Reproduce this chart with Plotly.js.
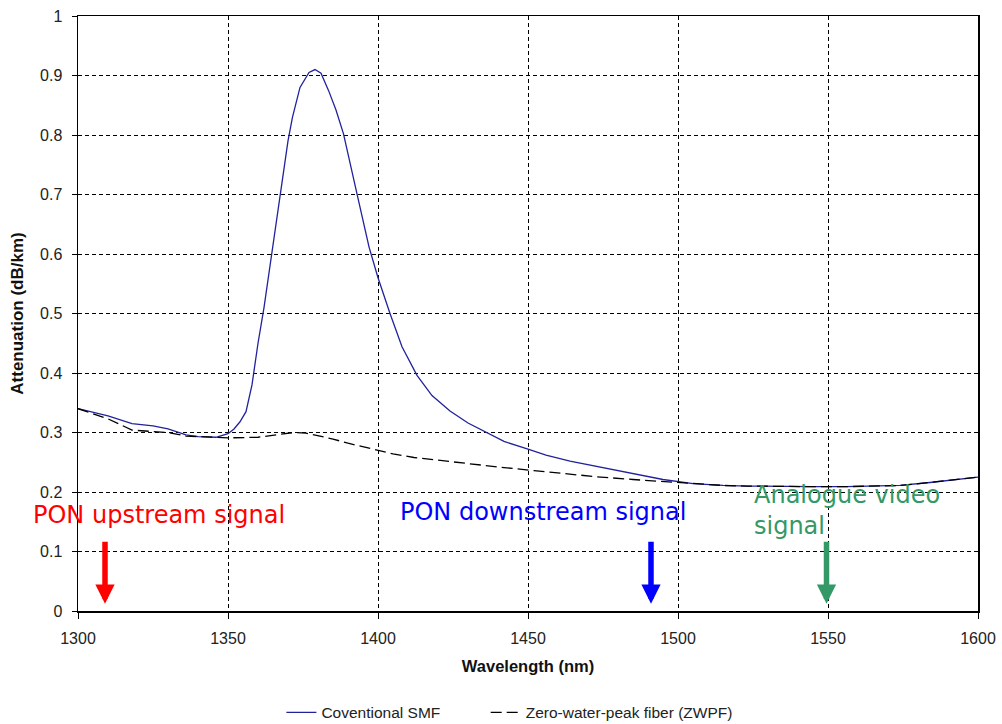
<!DOCTYPE html>
<html>
<head>
<meta charset="utf-8">
<script src="https://cdn.plot.ly/plotly-3.0.1.min.js"></script>
<style>html,body{margin:0;padding:0;background:#fff;}#chart{width:1002px;height:724px;}</style>
</head>
<body>
<div id="chart"></div>
<script>
// Conventional SMF
var smfWavelength = [1300,1305,1310,1318,1325,1330,1336,1340,1346,1350,1352,1354,1356,1358,1360,1362,1364.5,1367,1370,1371.5,1374,1377,1379,1381,1383.5,1386,1388.5,1393,1397,1400,1404,1408,1413,1418,1424,1430,1436,1442,1450,1456,1464,1472,1480,1486,1495,1505,1515,1523,1535,1545,1556,1566,1574,1584,1592,1600];
var smfAttenuation = [0.340,0.334,0.328,0.315,0.311,0.306,0.296,0.293,0.292,0.298,0.306,0.318,0.335,0.380,0.450,0.510,0.600,0.690,0.790,0.830,0.880,0.905,0.910,0.904,0.875,0.842,0.802,0.701,0.612,0.560,0.500,0.444,0.396,0.362,0.336,0.316,0.301,0.285,0.272,0.262,0.252,0.244,0.236,0.230,0.221,0.214,0.211,0.210,0.209,0.209,0.209,0.210,0.211,0.216,0.220,0.225];
// Zero-water-peak fiber (ZWPF)
var zwpfWavelength = [1300,1305,1310,1318,1325,1330,1336,1340,1350,1360,1366,1372,1376,1380,1385,1390,1395,1400,1405,1412,1422,1432,1442,1452,1462,1472,1485,1495,1505,1515,1523,1535,1545,1556,1566,1574,1584,1592,1600];
var zwpfAttenuation = [0.340,0.332,0.323,0.304,0.301,0.300,0.294,0.293,0.291,0.292,0.296,0.300,0.299,0.295,0.289,0.282,0.276,0.270,0.264,0.258,0.252,0.246,0.241,0.236,0.231,0.226,0.221,0.218,0.214,0.211,0.210,0.209,0.209,0.209,0.210,0.211,0.216,0.220,0.225];

var signalLabels = ["PON upstream signal", "PON downstream signal", "Analogue video<br>signal"];
var signalWavelengths = [1309, 1491, 1549.5];
var labelX = [1327, 1455, 1524.5];
var labelY = [0.162, 0.167, 0.169];
var labelAnchor = ["center", "center", "left"];
var signalColors = ["#ff0000", "#0000ff", "#339966"];

var traces = [
  {x: smfWavelength, y: smfAttenuation, type: 'scatter', mode: 'lines', name: 'Coventional SMF',
   line: {color: '#22229c', width: 1.3}, legend: 'legend'},
  {x: zwpfWavelength, y: zwpfAttenuation, type: 'scatter', mode: 'lines', name: 'Zero-water-peak fiber (ZWPF)',
   line: {color: '#000000', width: 1.3, dash: '11px,5px'}, legend: 'legend2'}
];

var annotations = [];
for (var i = 0; i < signalLabels.length; i++) {
  annotations.push({x: labelX[i], y: labelY[i], xref: 'x', yref: 'y', text: signalLabels[i],
    showarrow: false, xanchor: labelAnchor[i], yanchor: 'middle', align: 'left',
    font: {family: 'DejaVu Sans', size: 24, color: signalColors[i]}});
  annotations.push({x: signalWavelengths[i], y: 0.012, xref: 'x', yref: 'y',
    ax: signalWavelengths[i], ay: 0.119, axref: 'x', ayref: 'y', text: '',
    showarrow: true, arrowhead: 2, arrowsize: 0.7, arrowwidth: 5.5, arrowcolor: signalColors[i]});
}

var legendStyle = {orientation: 'h', xanchor: 'left', y: -0.171, yanchor: 'middle',
                   font: {size: 15.5, color: '#222'}};

var layout = {
  width: 1002, height: 724,
  margin: {l: 78, r: 24, t: 15.5, b: 113.3, autoexpand: false},
  paper_bgcolor: '#ffffff', plot_bgcolor: '#ffffff',
  font: {family: 'Liberation Sans, Arial, sans-serif', size: 16, color: '#222'},
  showlegend: true,
  legend: Object.assign({x: 0.226}, legendStyle),
  legend2: Object.assign({x: 0.453}, legendStyle),
  xaxis: {range: [1300, 1600], dtick: 50, tick0: 1300, showgrid: true, gridcolor: '#000', griddash: '4px,3px', gridwidth: 1,
          showline: true, mirror: true, linecolor: '#000', linewidth: 1.5, zeroline: false, automargin: false,
          ticks: 'outside', ticklen: 6, tickcolor: '#000', ticklabelstandoff: 6,
          title: {text: '<b>Wavelength (nm)</b>', font: {size: 16.5, color: '#111'}, standoff: 14}},
  yaxis: {range: [0, 1], dtick: 0.1, showgrid: true, gridcolor: '#000', griddash: '4px,3px', gridwidth: 1,
          showline: true, mirror: true, linecolor: '#000', linewidth: 1.5, zeroline: false, automargin: false,
          ticks: 'outside', ticklen: 5, tickcolor: '#000', ticklabelstandoff: 6,
          title: {text: '<b>Attenuation (dB/km)</b>', font: {size: 17, color: '#111'}, standoff: 12}},
  annotations: annotations
};

Plotly.newPlot('chart', traces, layout, {displayModeBar: false, staticPlot: true});
</script>
</body>
</html>
